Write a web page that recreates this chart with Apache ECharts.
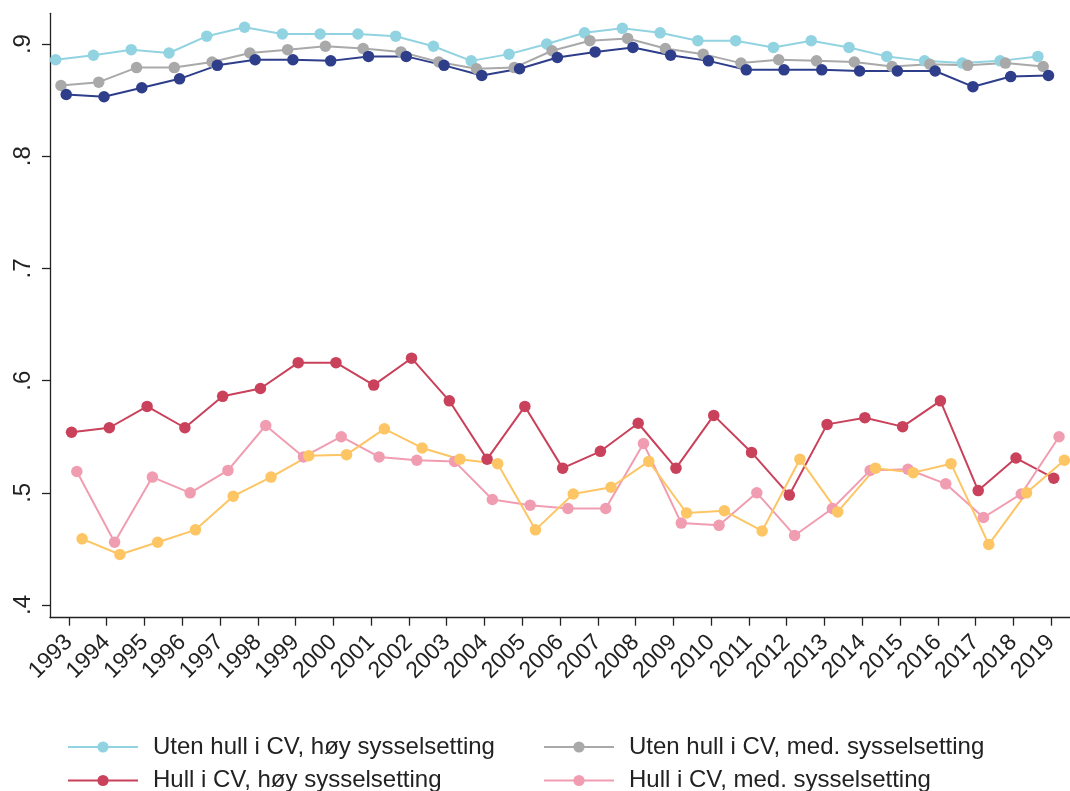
<!DOCTYPE html>
<html>
<head>
<meta charset="utf-8">
<title>Sysselsetting etter hull i CV</title>
<script src="https://cdn.jsdelivr.net/npm/echarts@6/dist/echarts.min.js"></script>
<style>
  html, body { margin: 0; padding: 0; background: #fff; }
  #chart { width: 1070px; height: 791px; }
</style>
</head>
<body>
<div id="chart"></div>
<script>
// Years on the x axis
const years = [1993, 1994, 1995, 1996, 1997, 1998, 1999, 2000, 2001, 2002, 2003, 2004, 2005,
  2006, 2007, 2008, 2009, 2010, 2011, 2012, 2013, 2014, 2015, 2016, 2017, 2018, 2019];

// Y axis tick values
const yTicks = [0.4, 0.5, 0.6, 0.7, 0.8, 0.9];

// Series names
const nameUtenHoy = 'Uten hull i CV, høy sysselsetting';
const nameUtenMed = 'Uten hull i CV, med. sysselsetting';
const nameHullHoy = 'Hull i CV, høy sysselsetting';
const nameHullMed = 'Hull i CV, med. sysselsetting';
const nameUtenLav = 'Uten hull i CV, lav sysselsetting';
const nameHullLav = 'Hull i CV, lav sysselsetting';

// Series values, one per year
const utenHoy = [0.886, 0.890, 0.895, 0.892, 0.907, 0.915, 0.909, 0.909, 0.909, 0.907, 0.898, 0.885, 0.891,
  0.900, 0.910, 0.914, 0.910, 0.903, 0.903, 0.897, 0.903, 0.897, 0.889, 0.885, 0.883, 0.885, 0.889];
const utenMed = [0.863, 0.866, 0.879, 0.879, 0.884, 0.892, 0.895, 0.898, 0.896, 0.893, 0.884, 0.878, 0.879,
  0.894, 0.903, 0.905, 0.896, 0.891, 0.883, 0.886, 0.885, 0.884, 0.880, 0.882, 0.881, 0.883, 0.880];
const utenLav = [0.855, 0.853, 0.861, 0.869, 0.881, 0.886, 0.886, 0.885, 0.889, 0.889, 0.881, 0.872, 0.878,
  0.888, 0.893, 0.897, 0.890, 0.885, 0.877, 0.877, 0.877, 0.876, 0.876, 0.876, 0.862, 0.871, 0.872];
const hullHoy = [0.554, 0.558, 0.577, 0.558, 0.586, 0.593, 0.616, 0.616, 0.596, 0.620, 0.582, 0.530, 0.577,
  0.522, 0.537, 0.562, 0.522, 0.569, 0.536, 0.498, 0.561, 0.567, 0.559, 0.582, 0.502, 0.531, 0.513];
const hullMed = [0.519, 0.456, 0.514, 0.500, 0.520, 0.560, 0.532, 0.550, 0.532, 0.529, 0.528, 0.494, 0.489,
  0.486, 0.486, 0.544, 0.473, 0.471, 0.500, 0.462, 0.486, 0.520, 0.521, 0.508, 0.478, 0.499, 0.550];
const hullLav = [0.459, 0.445, 0.456, 0.467, 0.497, 0.514, 0.533, 0.534, 0.557, 0.540, 0.530, 0.526, 0.467,
  0.499, 0.505, 0.528, 0.482, 0.484, 0.466, 0.530, 0.483, 0.522, 0.518, 0.526, 0.454, 0.500, 0.529];

// Horizontal dodge (in years) so the six series sit side by side around each year
const dodgeStep = 0.14;

const seriesDefs = [
  { name: nameUtenHoy, values: utenHoy, color: '#92d3e1', slot: 0 },
  { name: nameUtenMed, values: utenMed, color: '#a9a9a9', slot: 1 },
  { name: nameHullHoy, values: hullHoy, color: '#c9415a', slot: 3 },
  { name: nameHullMed, values: hullMed, color: '#f19db1', slot: 4 },
  { name: nameUtenLav, values: utenLav, color: '#2e3e8b', slot: 2 },
  { name: nameHullLav, values: hullLav, color: '#fdc564', slot: 5 }
];

const fontFamily = '"Liberation Sans", Arial, Helvetica, sans-serif';
const inkColor = '#222';

const series = seriesDefs.map(def => {
  const shift = (def.slot - 2.5) * dodgeStep;
  return {
    name: def.name,
    type: 'line',
    data: years.map((yr, i) => [yr + shift, def.values[i]]),
    symbol: 'circle',
    symbolSize: 11.5,
    showSymbol: true,
    color: def.color,
    lineStyle: { width: 2, color: def.color },
    itemStyle: { color: def.color },
    emphasis: { disabled: true },
    animation: false
  };
});

// One legend block per entry: two columns, two rows
const legendText = { fontSize: 24, color: inkColor, fontFamily: fontFamily, padding: [0, 0, 0, 10] };
function legendEntry(name, left, centerY) {
  return {
    data: [name],
    orient: 'horizontal',
    left: left,
    top: centerY - 13,
    padding: 0,
    itemWidth: 70,
    itemHeight: 14,
    textStyle: legendText,
    selectedMode: false
  };
}

const chart = echarts.init(document.getElementById('chart'), null, { renderer: 'canvas' });
chart.setOption({
  backgroundColor: '#ffffff',
  animation: false,
  grid: { left: 50, top: 13.3, right: -7.5, bottom: 173.3 },
  xAxis: {
    type: 'value',
    min: 1992.5,
    max: 2019.5,
    splitLine: { show: false },
    axisLine: { show: true, lineStyle: { color: inkColor, width: 1.3 } },
    axisTick: { show: true, customValues: years, length: 8, lineStyle: { color: inkColor, width: 1.3 } },
    axisLabel: {
      customValues: years,
      rotate: 45,
      margin: 21,
      padding: [10, 0, 0, 0],
      fontSize: 23,
      color: inkColor,
      fontFamily: fontFamily,
      formatter: v => String(Math.round(v))
    }
  },
  yAxis: {
    type: 'value',
    min: 0.3887,
    max: 0.9274,
    splitLine: { show: false },
    axisLine: { show: true, lineStyle: { color: inkColor, width: 1.3 } },
    axisTick: { show: true, customValues: yTicks, length: 8, lineStyle: { color: inkColor, width: 1.3 } },
    axisLabel: {
      customValues: yTicks,
      rotate: 90,
      margin: 15,
      fontSize: 24,
      color: inkColor,
      fontFamily: fontFamily,
      formatter: v => '.' + Math.round(v * 10)
    }
  },
  legend: [
    legendEntry(nameUtenHoy, 67, 748),
    legendEntry(nameHullHoy, 67, 781.5),
    legendEntry(nameUtenMed, 543, 748),
    legendEntry(nameHullMed, 543, 781.5)
  ],
  series: series
});
</script>
</body>
</html>
